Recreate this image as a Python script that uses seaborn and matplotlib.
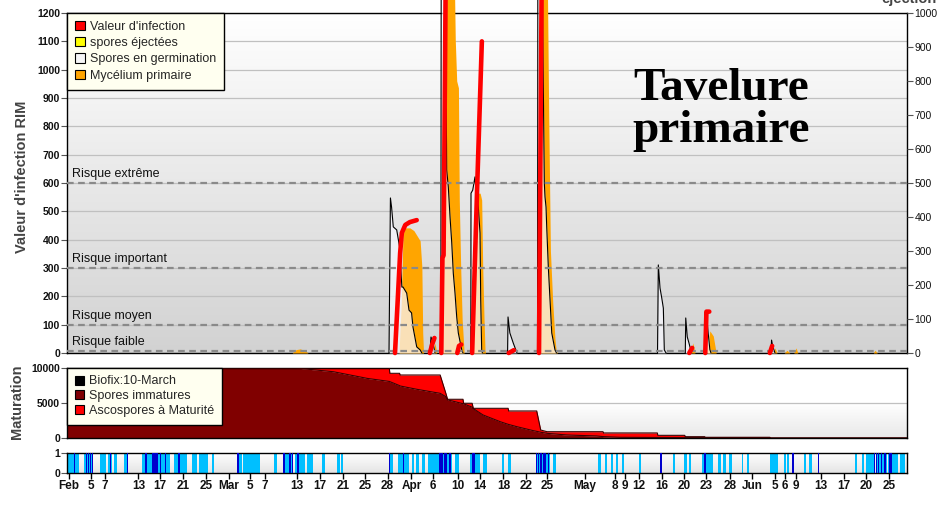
'''
Tavelure primaire : valeur d'infection RIM, maturation des ascospores et humectation.
'''

import matplotlib
matplotlib.use('Agg')
from matplotlib import pyplot as plt
from matplotlib.colors import LinearSegmentedColormap
from matplotlib.patches import Patch
import numpy as np
import pandas as pd
import seaborn as sns

# axe des x : jours depuis le 1er février (position sur l'échelle du graphique)
tick_pos = [0.35, 4.15, 6.65, 12.48, 16.28, 20.25, 24.29, 28.35, 32.03, 34.65, 40.2, 44.28,
            48.3, 52.15, 56.09, 60.26, 64.1, 68.48, 72.28, 76.36, 80.29, 83.95, 90.65, 95.9,
            97.65, 100.07, 104.08, 107.98, 111.83, 115.98, 119.92, 123.91, 125.66, 127.5,
            131.9, 135.98, 139.83, 143.82]
tick_lab = ['Feb', '5', '7', '13', '17', '21', '25', 'Mar', '5', '7', '13', '17', '21', '25',
            '28', 'Apr', '6', '10', '14', '18', '22', '25', 'May', '8', '9', '12', '16', '20',
            '23', '28', 'Jun', '5', '6', '9', '13', '17', '20', '25']

# valeur d'infection RIM (axe de gauche), un segment par événement
rim_evt = [1, 1, 1, 1, 1, 1, 2, 2, 2, 3, 3, 3, 3, 4, 4, 4, 5, 5, 5, 6, 6, 7, 7, 8, 8, 9, 9, 9, 10, 10]
rim_jour = [57.4, 58.3, 58.6, 59.2, 60.0, 61.2, 63.5, 63.9, 64.3, 65.5, 65.7, 65.9, 66.3,
            68.3, 68.6, 69.0, 70.9, 71.8, 72.6, 77.3, 78.2, 82.6, 83.1, 108.9, 109.4,
            111.7, 111.9, 112.4, 123.0, 123.4]
rim_val = [0, 353, 424, 452, 462, 469, 0, 30, 53, 0, 335, 345, 1400,
           0, 25, 30, 0, 600, 1100, 0, 10, 0, 1400, 0, 18,
           0, 146, 146, 0, 25]

# spores en germination (axe de droite)
germ_evt = [1, 1, 1, 1, 1, 1, 1, 1, 1, 1, 1, 1, 1, 1, 1,
            2, 2, 2, 2,
            3, 3, 3, 3, 3, 3, 3, 3, 3, 3, 3, 3, 3,
            4, 4, 4, 4, 4, 4, 4, 4, 4, 4,
            5, 5, 5, 5, 5,
            6, 6, 6, 6, 6, 6, 6, 6, 6, 6, 6, 6,
            7, 7, 7, 7, 7, 7, 7,
            8, 8, 8, 8, 8, 8,
            9, 9, 9, 9, 9, 9,
            10, 10, 10, 10]
germ_jour = [56.35, 56.6, 56.8, 57.1, 57.7, 58.2, 58.6, 58.8, 59.45, 59.85, 60.3, 60.55, 61.2, 61.8, 62.1,
             63.5, 63.7, 64.05, 64.4,
             65.42, 65.49, 66.15, 66.45, 66.73, 67.03, 67.33, 67.6, 67.9, 68.2, 68.48, 69.08, 69.3,
             70.67, 70.7, 71.0, 71.4, 71.52, 71.98, 72.28, 72.4, 72.57, 72.7,
             77.1, 77.18, 77.5, 78.1, 78.75,
             82.34, 82.4, 83.1, 83.53, 83.65, 83.83, 83.95, 84.23, 84.53, 84.83, 85.4, 85.67,
             103.34, 103.48, 103.78, 104.08, 104.36, 104.53, 104.83,
             108.2, 108.28, 108.55, 108.85, 109.15, 109.3,
             111.57, 111.65, 111.9, 112.2, 112.5, 112.7,
             123.2, 123.3, 123.5, 123.9]
germ_val = [0, 456, 429, 371, 362, 312, 194, 194, 176, 126, 118, 76, 18, 9, 0,
            0, 47, 30, 0,
            0, 1200, 1200, 538, 488, 400, 324, 235, 176, 106, 59, 9, 0,
            0, 470, 479, 518, 488, 429, 353, 156, 9, 0,
            0, 106, 59, 29, 0,
            0, 1200, 1200, 500, 459, 429, 371, 253, 156, 59, 9, 0,
            0, 259, 191, 162, 132, 9, 0,
            0, 103, 47, 29, 9, 0,
            0, 120, 115, 60, 10, 0,
            0, 38, 20, 0]

# mycélium primaire (axe de droite)
myc_evt = [1, 1, 1, 1, 1,
           2, 2, 2, 2, 2, 2, 2, 2, 2, 2, 2,
           3, 3, 3,
           4, 4, 4, 4, 4, 4, 4, 4, 4, 4, 4,
           5, 5, 5, 5, 5, 5, 5, 5, 5,
           6, 6, 6, 6, 6, 6, 6, 6, 6,
           7, 7, 7, 8, 8, 8, 8, 8, 9, 9, 9, 10, 10, 10, 11, 11, 11, 12, 12, 12]
myc_jour = [39.4, 40.1, 40.8, 41.5, 42.2,
            58.1, 58.5, 58.8, 59.15, 60.0, 60.7, 61.25, 61.8, 62.1, 62.25, 62.4,
            64.1, 64.4, 64.7,
            65.55, 65.8, 66.0, 67.7, 67.95, 68.2, 68.5, 68.65, 68.9, 69.15, 69.5,
            71.1, 71.4, 71.75, 72.3, 72.57, 72.75, 72.97, 73.15, 73.24,
            82.6, 82.8, 84.0, 84.3, 84.6, 85.0, 85.4, 85.6, 85.8,
            109.2, 109.55, 109.9, 112.0, 112.5, 113.1, 113.4, 113.6,
            123.55, 123.9, 124.25, 125.5, 126.0, 126.5, 127.2, 127.6, 127.9, 141.1, 141.4, 141.8]
myc_val = [0, 10, 12, 8, 0,
           0, 150, 350, 368, 368, 360, 345, 330, 253, 59, 0,
           0, 30, 0,
           0, 300, 1200, 1200, 920, 800, 780, 450, 250, 100, 0,
           0, 300, 470, 470, 450, 253, 106, 9, 0,
           0, 1200, 1200, 700, 300, 150, 40, 9, 0,
           0, 30, 0, 0, 65, 50, 20, 0,
           0, 15, 0, 0, 8, 0, 0, 15, 0, 0, 8, 0]

risques = [600, 300, 100, 8]
risques_lab = ['Risque extrême', 'Risque important', 'Risque moyen', 'Risque faible']

# maturation des ascospores
mat_jour = [0, 40, 46.6, 52.5, 56.4, 56.5, 58.2, 58.3, 61.2, 65.3, 66.3, 66.6, 69.3, 69.4,
            70.9, 71.1, 72.8, 75.8, 77.2, 77.3, 78.7, 81.6, 82.2, 82.9, 84.0, 87.5, 92.7,
            93.8, 93.9, 96.8, 103.3, 103.4, 108.1, 108.2, 111.6, 111.7, 123.0, 123.1, 147]
mat_total = [10000, 10000, 10000, 10000, 10000, 9240, 9240, 9000, 9000, 9000, 6380, 5530, 5530, 4960,
             4960, 4240, 4240, 4240, 4240, 3860, 3860, 3860, 3860, 1140, 900, 900, 900,
             900, 720, 720, 720, 380, 380, 190, 190, 100, 100, 0, 0]
mat_immat = [10000, 10000, 9470, 8520, 8080, 8050, 7480, 7430, 6960, 6380, 5900, 5450, 4900, 4880,
             4400, 4200, 3290, 2330, 1950, 1930, 1620, 1050, 950, 820, 670, 430, 290,
             200, 195, 100, 70, 70, 60, 60, 60, 60, 60, 0, 0]

# humectation : périodes humides (clair) et pluie (foncé)
hum_debut = [0.23, 2.98, 5.78, 7.23, 8.23, 9.98, 13.07, 18.73, 21.82, 23.15, 25.32, 30.05, 30.85,
             36.23, 37.75, 39.9, 41.95, 44.57, 47.2, 47.95, 56.53, 57.93, 60.32, 61.08, 62.08,
             63.23, 67.9, 70.53, 72.84, 76.08, 77.13, 82.03, 85.0, 92.98, 94.15, 95.2, 96.08,
             97.08, 100.1, 106.1, 108.03, 108.86, 111.08, 113.98, 114.86, 115.86, 118.08, 118.95,
             123.03, 125.53, 125.95, 126.83, 128.98, 129.85, 137.9, 139.08, 139.83, 141.76,
             143.68, 145.78]
hum_fin = [2.15, 4.6, 6.83, 7.82, 8.8, 10.73, 18.03, 20.95, 22.8, 24.73, 25.73, 30.68, 33.78,
           36.8, 39.6, 41.65, 43.1, 45.15, 47.78, 48.25, 57.1, 59.9, 60.73, 61.65, 62.65,
           67.33, 68.6, 72.3, 73.45, 76.48, 77.71, 84.53, 85.58, 93.45, 94.56, 95.6, 96.48,
           97.48, 100.45, 106.4, 108.45, 109.2, 113.11, 114.45, 115.28, 116.43, 118.25, 119.4,
           124.38, 125.78, 126.36, 127.28, 129.33, 130.33, 138.3, 139.53, 141.4, 143.51,
           145.43, 146.66]
pluie_debut = [1.15, 3.25, 3.7, 4.05, 4.4, 7.45, 10.52, 13.73, 14.82, 16.3, 17.17, 19.4, 29.83,
               37.88, 38.93, 39.33, 40.33, 56.3, 58.76, 65.16, 66.05, 66.35, 66.81, 67.05, 70.83,
               82.1, 82.38, 82.85, 83.26, 83.55, 84.13, 103.86, 111.55, 126.83, 131.38, 141.18,
               141.6, 141.88, 142.48, 143.03, 143.85]
pluie_fin = [1.37, 3.47, 3.92, 4.27, 4.62, 7.67, 10.74, 13.95, 15.98, 16.52, 17.39, 19.75, 30.05,
             38.1, 39.15, 39.55, 40.55, 56.52, 58.98, 65.86, 66.27, 66.57, 67.03, 67.27, 71.41,
             82.32, 82.6, 83.07, 83.48, 83.77, 84.35, 104.08, 111.77, 127.28, 131.6, 141.4,
             141.82, 142.1, 142.7, 143.27, 144.43]


def fond(a, stops):
    cmap = LinearSegmentedColormap.from_list('fond', stops)
    g = np.linspace(0, 1, 256).reshape(-1, 1)
    a.imshow(g, cmap=cmap, aspect='auto', extent=(0, 1, 0, 1), transform=a.transAxes,
             zorder=0, interpolation='bilinear')


def cadre(a):
    for s in a.spines.values():
        s.set_visible(True)
        s.set_color('black')
        s.set_linewidth(1)


sns.set_theme(style='white')
plt.rcParams['font.family'] = ['Liberation Sans', 'DejaVu Sans']

fig = plt.figure(figsize=(9.42, 5.07), dpi=100)
L, W = 67 / 942, 840 / 942
ax = fig.add_axes([L, 1 - 353 / 507, W, 340 / 507])
ax_m = fig.add_axes([L, 1 - 438 / 507, W, 70 / 507], sharex=ax)
ax_s = fig.add_axes([L, 1 - 473 / 507, W, 20 / 507], sharex=ax)
ax2 = ax.twinx()
ax3 = ax.twinx()

XMAX = 147

# ---- panneau du haut ----
fond(ax, [(0, 'white'), (1, '#d2d2d2')])
ax.set_ylim(0, 1200)
ax.set_yticks(range(0, 1201, 100))
ax.set_yticklabels([str(v) for v in range(0, 1201, 100)], fontweight='bold', fontsize=7.5, color='#111')
ax.grid(axis='y', color='#c0c0c0', lw=0.9)
ax.grid(axis='x', visible=False)
ax.set_axisbelow(True)
ax.tick_params(axis='y', left=True, length=4, width=0.8, color='#555', pad=1)
ax.tick_params(axis='x', bottom=False, labelbottom=False)
cadre(ax)

inf = pd.DataFrame({'evt': rim_evt, 'jour': rim_jour, 'val': rim_val})
germ = pd.DataFrame({'evt': germ_evt, 'jour': germ_jour, 'val': germ_val})
myc = pd.DataFrame({'evt': myc_evt, 'jour': myc_jour, 'val': myc_val})

for _, g in myc.groupby('evt'):
    ax2.fill_between(g.jour, 0, g.val, color='#FFA500', lw=0, clip_on=False, zorder=2)
for _, g in germ.groupby('evt'):
    ax2.fill_between(g.jour, 0, g.val, color='#f8f8ff', alpha=0.72, lw=0, clip_on=False, zorder=3)
sns.lineplot(data=germ, x='jour', y='val', units='evt', estimator=None, sort=False,
             color='black', lw=0.8, ax=ax2, legend=False)
for ln in ax2.lines:
    ln.set_clip_on(False)
    ln.set_zorder(4)
ax2.set_ylim(0, 1000)
ax2.set_yticks(range(0, 1001, 100))
ax2.set_yticklabels([str(v) for v in range(0, 1001, 100)], fontsize=7.5, color='#111')
ax2.tick_params(axis='y', right=True, length=4, width=0.8, color='#555', pad=1.5)
ax2.set_xlabel('')
ax2.set_ylabel('')
for s in ax2.spines.values():
    s.set_visible(False)

for v, lab in zip(risques, risques_lab):
    ax3.axhline(v, color='#8a8a8a', lw=1.6, ls=(0, (3, 2)), zorder=5)
    ax3.text(0.006, v + 9, lab, transform=ax3.get_yaxis_transform(), fontsize=9,
             color='#111', va='bottom', ha='left')
sns.lineplot(data=inf, x='jour', y='val', units='evt', estimator=None, sort=False,
             color='#FF0000', lw=3.3, ax=ax3, legend=False)
for ln in ax3.lines:
    if ln.get_color() in ('#FF0000', '#ff0000'):
        ln.set_clip_on(False)
        ln.set_zorder(6)
ax3.set_ylim(0, 1200)
ax3.axis('off')

leg = ax3.legend(handles=[Patch(facecolor='#FF0000', edgecolor='black', lw=0.8, label="Valeur d'infection"),
                          Patch(facecolor='#FFFF00', edgecolor='black', lw=0.8, label='spores éjectées'),
                          Patch(facecolor='#f6f6f6', edgecolor='black', lw=0.8, label='Spores en germination'),
                          Patch(facecolor='#FFA500', edgecolor='black', lw=0.8, label='Mycélium primaire')],
                 loc='upper left', bbox_to_anchor=(0, 1), borderaxespad=0, fontsize=9,
                 handlelength=0.75, handleheight=0.75, handletextpad=0.4, labelspacing=0.33,
                 borderpad=0.65, fancybox=False, framealpha=1, facecolor='#fffff0', edgecolor='black')
leg.get_frame().set_linewidth(1)
leg.set_zorder(10)

# ---- maturation ----
fond(ax_m, [(0, 'white'), (0.5, 'white'), (1, '#e8e8e8')])
ax_m.fill_between(mat_jour, 0, mat_immat, color='#800000', lw=0, zorder=2)
ax_m.fill_between(mat_jour, mat_immat, mat_total, color='#FF0000', lw=0, zorder=2)
mat = pd.DataFrame({'jour': mat_jour, 'total': mat_total, 'immat': mat_immat})
sns.lineplot(data=mat, x='jour', y='total', color='#3a0000', lw=0.8, ax=ax_m, estimator=None, sort=False)
sns.lineplot(data=mat, x='jour', y='immat', color='#3a0000', lw=0.8, ax=ax_m, estimator=None, sort=False)
for ln in ax_m.lines:
    ln.set_zorder(3)
ax_m.set_ylim(0, 10000)
ax_m.set_yticks([0, 5000, 10000])
ax_m.set_yticklabels(['0', '5000', '10000'], fontweight='bold', fontsize=7.5, color='#111')
ax_m.grid(axis='y', color='#c0c0c0', lw=0.9)
ax_m.grid(axis='x', visible=False)
ax_m.set_axisbelow(True)
ax_m.tick_params(axis='y', left=True, length=4, width=0.8, color='#555', pad=1)
ax_m.tick_params(axis='x', bottom=False, labelbottom=False)
ax_m.set_xlabel('')
ax_m.set_ylabel('')
cadre(ax_m)
leg_m = ax_m.legend(handles=[Patch(facecolor='#000000', edgecolor='black', lw=0.8, label='Biofix:10-March'),
                             Patch(facecolor='#800000', edgecolor='black', lw=0.8, label='Spores immatures'),
                             Patch(facecolor='#FF0000', edgecolor='black', lw=0.8, label='Ascospores à Maturité')],
                    loc='upper left', bbox_to_anchor=(0, 1), borderaxespad=0, fontsize=9,
                    handlelength=0.75, handleheight=0.75, handletextpad=0.4, labelspacing=0.22,
                    borderpad=0.6, fancybox=False, framealpha=1, facecolor='#fffff0', edgecolor='black')
leg_m.get_frame().set_linewidth(1)
leg_m.set_zorder(10)

# ---- humectation ----
fond(ax_s, [(0, 'white'), (1, '#e4e4e4')])
ax_s.bar(hum_debut, 1, width=np.subtract(hum_fin, hum_debut), align='edge', color='#00BFFF', lw=0, zorder=2)
ax_s.bar(pluie_debut, 1, width=np.subtract(pluie_fin, pluie_debut), align='edge', color='#0000CD', lw=0, zorder=3)
ax_s.set_ylim(0, 1)
ax_s.set_yticks([0, 1])
ax_s.set_yticklabels(['0', '1'], fontweight='bold', fontsize=7.5, color='#111')
ax_s.tick_params(axis='y', left=True, length=4, width=0.8, color='#555', pad=1)
ax_s.set_xticks(tick_pos)
ax_s.set_xticklabels(tick_lab, fontweight='bold', fontsize=8.5, color='#111')
ax_s.tick_params(axis='x', bottom=True, length=4, width=1, color='black', pad=1)
ax_s.grid(False)
cadre(ax_s)

for a in (ax, ax2, ax3, ax_m, ax_s):
    a.set_xlim(0, XMAX)

fig.text(22.5 / 942, 1 - 177 / 507, "Valeur d'infection RIM", rotation=90, ha='center', va='center',
         fontsize=10.5, fontweight='bold', color='#444')
fig.text(17.5 / 942, 1 - 402 / 507, 'Maturation', rotation=90, ha='center', va='center',
         fontsize=10.5, fontweight='bold', color='#444')
fig.text(937 / 942, 1 - 3.5 / 507, 'éjection', ha='right', va='baseline',
         fontsize=10.5, fontweight='bold', color='#444')
fig.text(721 / 942, 1 - 100 / 507, 'Tavelure', ha='center', va='baseline', fontsize=34,
         fontweight='bold', family=['Liberation Serif', 'DejaVu Serif'], color='black')
fig.text(721 / 942, 1 - 141.7 / 507, 'primaire', ha='center', va='baseline', fontsize=34,
         fontweight='bold', family=['Liberation Serif', 'DejaVu Serif'], color='black')

fig.savefig('out.png', dpi=100)
